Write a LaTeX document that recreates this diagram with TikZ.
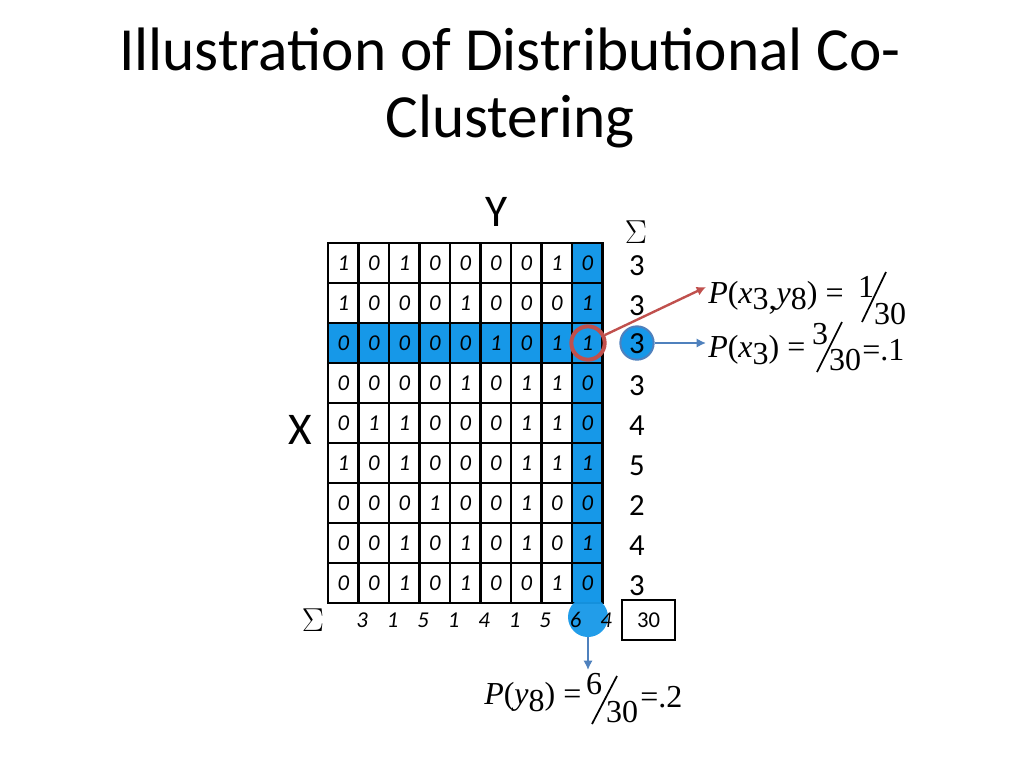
\documentclass[tikz,border=0pt]{standalone}
\usepackage{fontspec}
\setmainfont{Carlito}
\newfontfamily\serf{Liberation Serif}
\usetikzlibrary{arrows.meta}
\definecolor{cblue}{RGB}{22,152,232}
\definecolor{cred}{RGB}{192,80,77}
\definecolor{aline}{RGB}{79,129,189}
\newcommand{\lw}[1]{\raisebox{-5pt}{#1}}
\begin{document}
\begin{tikzpicture}[x=0.75pt,y=-0.75pt,
  cellb/.style={draw=black,line width=1.6pt},
  num/.style={font=\itshape\fontsize{17}{17}\selectfont,inner sep=0pt},
  knum/.style={font=\itshape\fontsize{17}{17}\selectfont,inner sep=0pt},
  sumn/.style={font=\fontsize{23}{23}\selectfont,inner sep=0pt},
  frm/.style={font=\serf\fontsize{24}{24}\selectfont,inner sep=0pt,anchor=west},
  fr/.style={font=\serf\fontsize{24}{24}\selectfont,inner sep=0pt},
  arr/.style={line width=1.8pt,-{Latex[length=7pt,width=7pt]}}]
\useasboundingbox (0,0) rectangle (1024,768);
\node[font=\fontsize{46}{50}\selectfont,align=center] (title) at (510,88) {Illustration of Distributional Co-\\Clustering};
\node[font=\fontsize{34}{34}\selectfont] (Y) at (497,212) {Y};
\node[font=\fontsize{34}{34}\selectfont] (X) at (300,430) {X};
\node[font=\serf\fontsize{30}{30}\selectfont] (s1) at (636,232) {$\Sigma$};
\node[font=\serf\fontsize{30}{30}\selectfont] (s2) at (313,620) {$\Sigma$};
\fill[cblue] (572,243) rectangle (603,603);
\fill[cblue] (328,323) rectangle (603,363);
\foreach \rw [count=\j] in {{1,0,1,0,0,0,0,1,0},{1,0,0,0,1,0,0,0,1},{0,0,0,0,0,1,0,1,1},{0,0,0,0,1,0,1,1,0},{0,1,1,0,0,0,1,1,0},{1,0,1,0,0,0,1,1,1},{0,0,0,1,0,0,1,0,0},{0,0,1,0,1,0,1,0,1},{0,0,1,0,1,0,0,1,0}}{
  \foreach \val [count=\i] in \rw {
    \pgfmathsetmacro\xa{328+30.5*(\i-1)}
    \pgfmathsetmacro\ya{243+40*(\j-1)}
    \draw[cellb] (\xa,\ya) rectangle ++(30.5,40);
    \node[num] (c\j-\i) at (\xa+15.25,\ya+20) {\val};
  }
}
\foreach \s [count=\j] in {3,3,3,3,4,5,2,4,3}{
  \node[sumn] (r\j) at (637,266+40*\j-40) {\s};
}
\fill[cblue,opacity=0.95] (588,617) circle (20);
\foreach \s [count=\i] in {3,1,5,1,4,1,5,6,4}{
  \node[knum] (k\i) at (362+30.5*\i-30.5,620) {\s};
}
\node[draw,line width=1.2pt,minimum width=40pt,minimum height=30pt,inner sep=0pt,font=\fontsize{17}{17}\selectfont] (tot) at (648.5,620) {30};
\node[circle,draw=cred,line width=3pt,minimum size=25pt] (rc) at (588,343) {};
\node[circle,fill=cblue,draw=aline,line width=1.5pt,minimum size=25pt] (bc) at (637,343) {};
\node[sumn] (r3b) at (637,344) {3};
\coordinate (bd) at (588,637);
\coordinate (ra) at (706,287);
\coordinate (ba) at (706,343);
\coordinate (da) at (588,670);
\draw[arr,cred] (rc) -- (ra);
\draw[arr,aline] (bc) -- (ba);
\draw[arr,aline] (bd) -- (da);
\node[frm] (f1) at (708,298) {\textit{P}(\textit{x}\lw{3,}\textit{y}\lw{8}) =};
\node[fr] (f1n) at (866,287) {1};
\node[fr] (f1d) at (890,314) {30};
\draw[line width=1.3pt] (886,272) -- (862,322);
\node[frm] (f2) at (708,350) {\textit{P}(\textit{x}\lw{3}) =};
\node[fr] (f2n) at (820,334) {3};
\node[fr] (f2d) at (845,360) {30};
\draw[line width=1.3pt] (842,322) -- (817,372);
\node[frm] (f2e) at (862,350) {=.1};
\node[frm] (f3) at (484,697) {\textit{P}(\textit{y}\lw{8}) =};
\node[fr] (f3n) at (594,684) {6};
\node[fr] (f3d) at (622,712) {30};
\draw[line width=1.3pt] (617,676) -- (592,724);
\node[frm] (f3e) at (640,697) {=.2};
\end{tikzpicture}
\end{document}
